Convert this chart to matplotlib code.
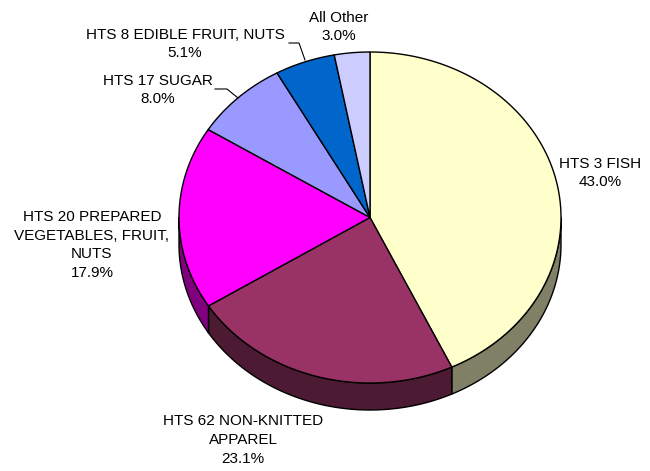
import numpy as np
import matplotlib.pyplot as plt
from matplotlib.patches import Polygon

labels = ['HTS 3 FISH', 'HTS 62 NON-KNITTED\nAPPAREL', 'HTS 20 PREPARED\nVEGETABLES, FRUIT,\nNUTS',
          'HTS 17 SUGAR', 'HTS 8 EDIBLE FRUIT, NUTS', 'All Other']
shares = [43.0, 23.1, 17.9, 8.0, 5.1, 3.0]
colors = ['#FFFFCC', '#993366', '#FF00FF', '#9999FF', '#0066CC', '#CCCCFF']
side_colors = ['#808066', '#4D1A33', '#800080', '#4D4D80', '#003366', '#666680']

# label placement (pixel coords) and optional leader lines
label_pos = [(600, 173), (243, 440), (92, 245), (158, 90), (185, 44), (339, 27)]
leaders = {3: [(215, 89), (227, 89), (238, 98)],
           4: [(289, 43), (299, 43), (305, 60)]}

cx, cy, a, b, depth = 370, 217.5, 191, 165.5, 27

fig = plt.figure(figsize=(6.5, 4.71), dpi=100)
ax = fig.add_axes([0, 0, 1, 1])
ax.set_xlim(0, 650)
ax.set_ylim(471, 0)
ax.axis('off')

def pt(t, dy=0):
    return cx + a * np.sin(t), cy - b * np.cos(t) + dy

total = sum(shares)
bounds = np.concatenate([[0], np.cumsum(shares) / total * 2 * np.pi])

# side walls (front half only)
for i in range(len(shares)):
    t0, t1 = max(bounds[i], np.pi / 2), min(bounds[i + 1], 3 * np.pi / 2)
    if t1 <= t0:
        continue
    ts = np.linspace(t0, t1, 100)
    top = [pt(t) for t in ts]
    bot = [pt(t, depth) for t in ts[::-1]]
    ax.add_patch(Polygon(top + bot, closed=True, fc=side_colors[i], ec='black', lw=1))

# top faces
for i in range(len(shares)):
    ts = np.linspace(bounds[i], bounds[i + 1], 200)
    verts = [(cx, cy)] + [pt(t) for t in ts]
    ax.add_patch(Polygon(verts, closed=True, fc=colors[i], ec='black', lw=1))

for i, (lab, val) in enumerate(zip(labels, shares)):
    x, y = label_pos[i]
    ax.text(x, y, f'{lab}\n{val:.1f}%', ha='center', va='center', fontsize=11,
            family='Liberation Sans', linespacing=1.42)
    if i in leaders:
        xs, ys = zip(*leaders[i])
        ax.plot(xs, ys, color='black', lw=0.8)

fig.savefig('out.png', dpi=100)
